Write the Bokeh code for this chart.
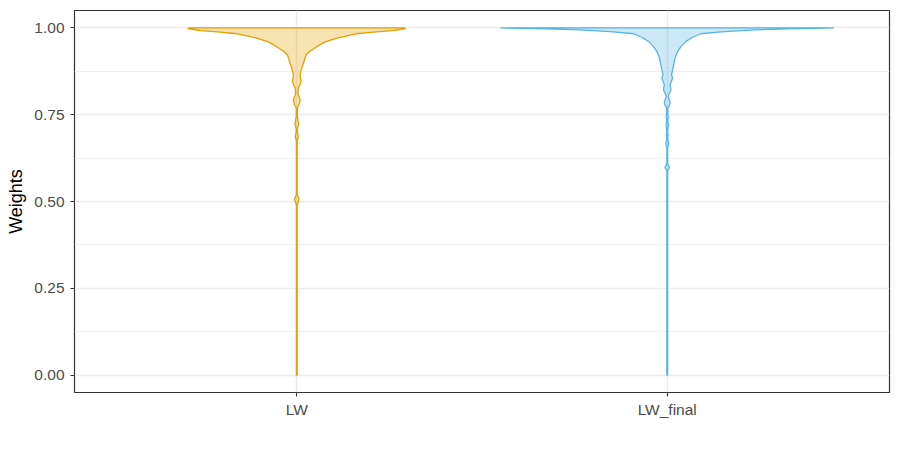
import numpy as np
from bokeh.plotting import figure
from bokeh.models import Range1d, FixedTicker
from bokeh.embed import file_html
from bokeh.resources import INLINE

categories = ["LW", "LW_final"]
line_colors = ["#E69F00", "#56B4E9"]
y_ticks = [0.0, 0.25, 0.5, 0.75, 1.0]
y_tick_labels = ["0.00", "0.25", "0.50", "0.75", "1.00"]
y_minor = [0.125, 0.375, 0.625, 0.875]

# violin profiles: weight value and violin full width (category units)
lw_y = [0.000, 0.490, 0.500, 0.506, 0.512, 0.520, 0.675, 0.682, 0.687, 0.693,
        0.705, 0.718, 0.725, 0.732, 0.745, 0.770, 0.780, 0.792, 0.802, 0.810,
        0.826, 0.840, 0.848, 0.856, 0.865, 0.874, 0.884, 0.898, 0.908, 0.922,
        0.932, 0.944, 0.959, 0.970, 0.983, 0.9885, 0.992, 0.996, 0.998, 1.000]
lw_width = [0.002, 0.002, 0.008, 0.012, 0.008, 0.002, 0.002, 0.006, 0.008, 0.006,
            0.002, 0.007, 0.010, 0.007, 0.003, 0.003, 0.013, 0.018, 0.012, 0.006,
            0.008, 0.020, 0.023, 0.020, 0.018, 0.022, 0.027, 0.036, 0.042, 0.050,
            0.069, 0.104, 0.150, 0.212, 0.320, 0.428, 0.518, 0.565, 0.590, 0.575]

lwf_y = [0.000, 0.590, 0.594, 0.598, 0.603, 0.610, 0.655, 0.662, 0.667, 0.672,
         0.685, 0.692, 0.700, 0.714, 0.720, 0.727, 0.737, 0.744, 0.750, 0.769,
         0.778, 0.785, 0.792, 0.804, 0.812, 0.821, 0.836, 0.846, 0.855, 0.865,
         0.879, 0.893, 0.913, 0.932, 0.946, 0.961, 0.973, 0.983, 0.9885, 0.994,
         0.997, 0.999, 1.000]
lwf_width = [0.002, 0.002, 0.008, 0.0125, 0.008, 0.002, 0.002, 0.006, 0.008, 0.005,
             0.002, 0.005, 0.002, 0.004, 0.0065, 0.004, 0.003, 0.0065, 0.003, 0.003,
             0.012, 0.016, 0.012, 0.005, 0.012, 0.020, 0.016, 0.022, 0.029, 0.023,
             0.029, 0.034, 0.042, 0.056, 0.074, 0.101, 0.137, 0.182, 0.290, 0.470,
             0.650, 0.860, 0.900]

profiles = [(lw_y, lw_width), (lwf_y, lwf_width)]

FONT = "Liberation Sans"

p = figure(width=900, height=450, output_backend="svg", toolbar_location=None,
           x_range=Range1d(0.4, 2.6), y_range=Range1d(-0.05, 1.05),
           min_border_left=74, min_border_right=11, min_border_top=10,
           min_border_bottom=58)
p.background_fill_color = "white"
p.border_fill_color = "white"
p.outline_line_color = "#333333"
p.outline_line_width = 1.2

for i, (ys, ws) in enumerate(profiles):
    c = i + 1
    ys = np.array(ys)
    ws = np.array(ws)
    xs = np.concatenate([c - ws / 2, (c + ws / 2)[::-1]])
    yy = np.concatenate([ys, ys[::-1]])
    p.patch(xs, yy, fill_color=line_colors[i], fill_alpha=0.3,
            line_color=line_colors[i], line_width=1.3)

# axes
p.yaxis.ticker = FixedTicker(ticks=y_ticks, minor_ticks=y_minor)
p.yaxis.major_label_overrides = {t: l for t, l in zip(y_ticks, y_tick_labels)}
p.xaxis.ticker = FixedTicker(ticks=[1, 2], minor_ticks=[])
p.xaxis.major_label_overrides = {i + 1: c for i, c in enumerate(categories)}

for ax in (p.xaxis, p.yaxis):
    ax.axis_line_color = None
    ax.major_tick_line_color = "#333333"
    ax.major_tick_line_width = 1.1
    ax.major_tick_out = 4
    ax.major_tick_in = 0
    ax.minor_tick_line_color = None
    ax.major_label_text_font = FONT
    ax.major_label_text_font_size = "15.5px"
    ax.major_label_text_color = "#4D4D4D"

p.yaxis.major_label_standoff = 6
p.xaxis.major_label_standoff = 4
p.yaxis.axis_label = "Weights"
p.yaxis.axis_label_text_font = FONT
p.yaxis.axis_label_text_font_size = "18px"
p.yaxis.axis_label_text_font_style = "normal"
p.yaxis.axis_label_text_color = "black"
p.yaxis.axis_label_standoff = 5

p.ygrid.grid_line_color = "#EBEBEB"
p.ygrid.grid_line_width = 1.5
p.ygrid.minor_grid_line_color = "#F0F0F0"
p.ygrid.minor_grid_line_width = 1.0
p.xgrid.grid_line_color = "#EBEBEB"
p.xgrid.grid_line_width = 1.5

open("out.html", "w").write(file_html(p, INLINE))
